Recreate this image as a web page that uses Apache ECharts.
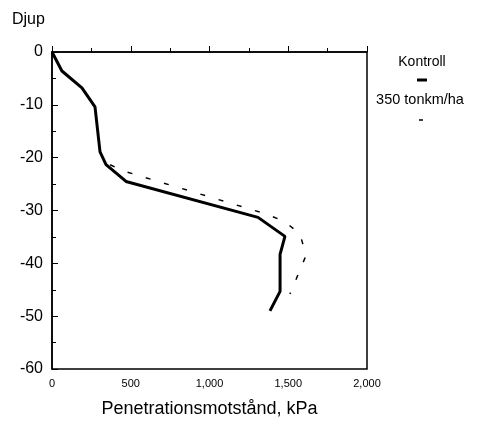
<!DOCTYPE html>
<html>
<head>
<meta charset="utf-8">
<script src="https://cdn.jsdelivr.net/npm/echarts@6/dist/echarts.min.js"></script>
<style>
  html, body { margin: 0; padding: 0; background: #fff; }
  #chart { width: 498px; height: 423px; }
</style>
</head>
<body>
<div id="chart"></div>
<script>
// Kontroll (solid) and 350 tonkm/ha (dashed): [kPa, depth]
const kontroll = [
  [0, 0], [63, -3.6], [190, -6.8], [273, -10.4], [305, -18.9], [343, -21.3],
  [470, -24.5], [1308, -31.3], [1479, -34.9], [1448, -38.3], [1448, -45.3], [1384, -49]
];
const tonkm350 = [
  [0, 0], [63, -3.6], [190, -6.8], [273, -10.4], [305, -18.9], [343, -21],
  [463, -22.6], [1098, -28.3], [1352, -30.6], [1479, -32.1], [1575, -34.5],
  [1613, -38.5], [1511, -45.8]
];
const xTicks = [0, 500, 1000, 1500, 2000];
const yTicks = [0, -10, -20, -30, -40, -50, -60];

const font = 'Liberation Sans, Arial, sans-serif';
const chart = echarts.init(document.getElementById('chart'));

chart.setOption({
  backgroundColor: '#fff',
  animation: false,
  grid: { left: 52, top: 52, width: 315, height: 318, show: true, borderColor: '#000', borderWidth: 1.5 },
  xAxis: {
    type: 'value', min: xTicks[0], max: xTicks[xTicks.length - 1], interval: 500,
    name: 'Penetrationsmotstånd, kPa', nameLocation: 'middle', nameGap: 31,
    nameTextStyle: { color: '#000', fontSize: 18, fontFamily: font },
    axisLine: { lineStyle: { color: '#000', width: 1.5 } },
    axisTick: { inside: true, length: 6, lineStyle: { color: '#000' } },
    minorTick: { show: true, splitNumber: 2, length: 4, lineStyle: { color: '#000' } },
    splitLine: { show: false },
    axisLabel: { color: '#000', fontSize: 11, fontFamily: font, margin: 9,
      formatter: v => v.toLocaleString('en-US') }
  },
  yAxis: {
    type: 'value', min: yTicks[yTicks.length - 1], max: yTicks[0], interval: 10,
    axisLine: { lineStyle: { color: '#000', width: 1.5 } },
    axisTick: { inside: true, length: 6, lineStyle: { color: '#000' } },
    minorTick: { show: true, splitNumber: 2, length: 4, lineStyle: { color: '#000' } },
    splitLine: { show: false },
    axisLabel: { color: '#000', fontSize: 16, fontFamily: font, margin: 9 }
  },
  graphic: [
    { type: 'text', left: 12, top: 12, style: { text: 'Djup', fill: '#000', fontSize: 16, fontFamily: font } },
    { type: 'text', x: 422, y: 62, style: { text: 'Kontroll', fill: '#000', fontSize: 14, fontFamily: font, align: 'center', verticalAlign: 'middle' } },
    { type: 'line', shape: { x1: 417, y1: 80, x2: 427, y2: 80 }, style: { stroke: '#000', lineWidth: 3 } },
    { type: 'text', x: 420, y: 100, style: { text: '350 tonkm/ha', fill: '#000', fontSize: 14.5, fontFamily: font, align: 'center', verticalAlign: 'middle' } },
    { type: 'line', shape: { x1: 419, y1: 120, x2: 423, y2: 120 }, style: { stroke: '#000', lineWidth: 1.5 } }
  ],
  series: [
    { name: 'Kontroll', type: 'line', data: kontroll, showSymbol: false,
      lineStyle: { color: '#000', width: 3 } },
    { name: '350 tonkm/ha', type: 'line', data: tonkm350, showSymbol: false,
      lineStyle: { color: '#000', width: 1.5, type: [5, 14] } }
  ]
});
</script>
</body>
</html>
